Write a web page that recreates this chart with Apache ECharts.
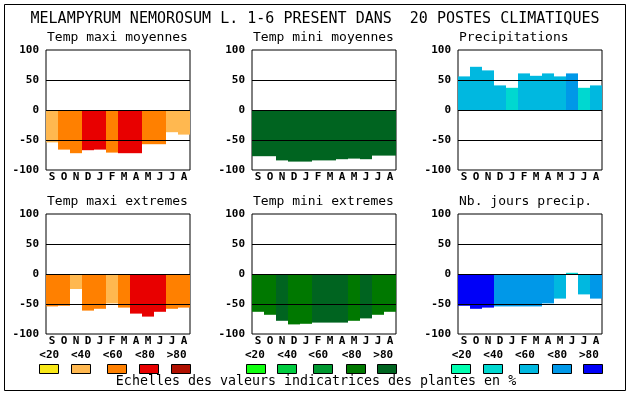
<!DOCTYPE html>
<html>
<head>
<meta charset="utf-8">
<script src="https://cdn.jsdelivr.net/npm/echarts@6/dist/echarts.min.js"></script>
<style>
html,body{margin:0;padding:0;background:#fff;}
#chart{width:630px;height:394px;}
</style>
</head>
<body>
<div id="chart"></div>
<script>
// ---- data ----
const months = ['S','O','N','D','J','F','M','A','M','J','J','A'];
const yTicks = [-100, -50, 0, 50, 100];
const classLabels = ['<20','<40','<60','<80','>80'];

const panelTitles = ['Temp maxi moyennes','Temp mini moyennes','Precipitations',
                     'Temp maxi extremes','Temp mini extremes','Nb. jours precip.'];

const tempMaxiMoy   = [-54,-66,-72,-67,-66,-71,-72,-72,-57,-57,-37,-41];
const tempMaxiMoyCl = [1,2,2,3,3,2,3,3,2,2,1,1];

const tempMiniMoy   = [-77,-77,-84,-86,-86,-84,-84,-82,-81,-82,-76,-76];
const tempMiniMoyCl = [4,4,4,4,4,4,4,4,4,4,4,4];

const precip   = [56,72,66,41,37,61,57,61,56,61,37,41];
const precipCl = [2,2,2,2,1,2,2,2,2,3,1,2];

const tempMaxiExt   = [-54,-53,-25,-61,-58,-49,-56,-66,-71,-63,-58,-56];
const tempMaxiExtCl = [2,2,1,2,2,1,2,3,3,3,2,2];

const tempMiniExt   = [-63,-68,-78,-84,-83,-81,-81,-81,-78,-74,-68,-63];
const tempMiniExtCl = [3,3,4,3,3,4,4,4,3,4,3,3];

const nbJours   = [-53,-58,-56,-54,-54,-54,-54,-49,-41,2,-34,-41];
const nbJoursCl = [4,4,4,3,3,3,3,3,2,1,2,3];

// ---- styles ----
const palRed   = ['#F8E818','#FFB850','#FF8000','#E80000','#B01000'];
const palGreen = ['#10FF10','#00CC40','#009830','#007800','#006420'];
const palBlue  = ['#00FFB0','#00D8D0','#00B8E0','#0098E8','#0000F8'];

const panels = [
  {vals: tempMaxiMoy, cls: tempMaxiMoyCl, pal: palRed},
  {vals: tempMiniMoy, cls: tempMiniMoyCl, pal: palGreen},
  {vals: precip, cls: precipCl, pal: palBlue},
  {vals: tempMaxiExt, cls: tempMaxiExtCl, pal: palRed},
  {vals: tempMiniExt, cls: tempMiniExtCl, pal: palGreen},
  {vals: nbJours, cls: nbJoursCl, pal: palBlue}
];

const colLeft = [46, 252, 458];
const colWidth = [144, 144, 144];
const rowTop = [50, 214];
const plotH = 120;
const MONO = '"DejaVu Sans Mono", monospace';

const grids = [], xAxes = [], yAxes = [], series = [], graphics = [];

panels.forEach((p, i) => {
  const c = i % 3, r = Math.floor(i / 3);
  grids.push({left: colLeft[c], top: rowTop[r], width: colWidth[c], height: plotH,
    show: true, borderColor: '#000', borderWidth: 1, backgroundColor: '#fff'});
  xAxes.push({type: 'category', gridIndex: i, data: months,
    axisLine: {show: false}, axisTick: {show: false}, splitLine: {show: false},
    axisLabel: {interval: 0, margin: 2, color: '#000', fontFamily: MONO, fontWeight: 'bold', fontSize: 11}});
  yAxes.push({type: 'value', gridIndex: i, min: yTicks[0], max: yTicks[yTicks.length-1], interval: 50,
    axisLine: {show: false}, axisTick: {show: false}, splitLine: {show: false},
    axisLabel: {margin: 7, color: '#000', fontFamily: MONO, fontWeight: 'bold', fontSize: 11}});
  series.push({type: 'bar', xAxisIndex: i, yAxisIndex: i, barCategoryGap: '0%', barWidth: '100%',
    silent: true, animation: false,
    data: p.vals.map((v, k) => ({value: v, itemStyle: {color: p.pal[p.cls[k]]}})),
    markLine: {silent: true, symbol: 'none', animation: false,
      label: {show: false},
      lineStyle: {color: '#000', width: 1, type: 'solid'},
      data: [{yAxis: 50}, {yAxis: 0}, {yAxis: -50}]}
  });
  graphics.push({type: 'text', x: colLeft[c] + 1, y: r === 0 ? 38 : 202,
    style: {text: panelTitles[i], font: '13px ' + MONO, fill: '#000', textVerticalAlign: 'middle'}});
});

// legend boxes / labels
const legendLabelX = [[39.3,71,102.7,135,166.7],[245,277.3,308.3,341.7,373.3],[451.7,483.3,515,547.3,579]];
const legendBoxX = [[39.3,71,107,139,171.3],[245.7,277.3,313.3,345.7,377],[451,483.3,519,551.7,583.3]];
const pals = [palRed, palGreen, palBlue];
for (let g = 0; g < 3; g++) {
  for (let k = 0; k < 5; k++) {
    graphics.push({type: 'text', x: legendLabelX[g][k], y: 355, 
      style: {text: classLabels[k], font: 'bold 11px ' + MONO, fill: '#000', textVerticalAlign: 'middle'}});
    graphics.push({type: 'rect', shape: {x: Math.round(legendBoxX[g][k]) + 0.5, y: 364.5, width: 19, height: 9},
      style: {fill: pals[g][k], stroke: '#000', lineWidth: 1}});
  }
}
graphics.push({type: 'text', x: 316, y: 382,
  style: {text: 'Echelles des valeurs indicatrices des plantes en %', font: '13.3px ' + MONO, fill: '#000',
    textAlign: 'center', textVerticalAlign: 'middle'}});
graphics.push({type: 'text', x: 315, y: 19,
  style: {text: 'MELAMPYRUM NEMOROSUM L. 1-6 PRESENT DANS  20 POSTES CLIMATIQUES', font: '15px ' + MONO, fill: '#000',
    textAlign: 'center', textVerticalAlign: 'middle'}});
graphics.push({type: 'rect', shape: {x: 4.5, y: 4.5, width: 621, height: 386},
  style: {fill: 'none', stroke: '#000', lineWidth: 1}, z: 100});

const chart = echarts.init(document.getElementById('chart'), null, {renderer: 'canvas'});
chart.setOption({
  animation: false,
  backgroundColor: '#fff',
  grid: grids, xAxis: xAxes, yAxis: yAxes, series: series, graphic: graphics
});
</script>
</body>
</html>
